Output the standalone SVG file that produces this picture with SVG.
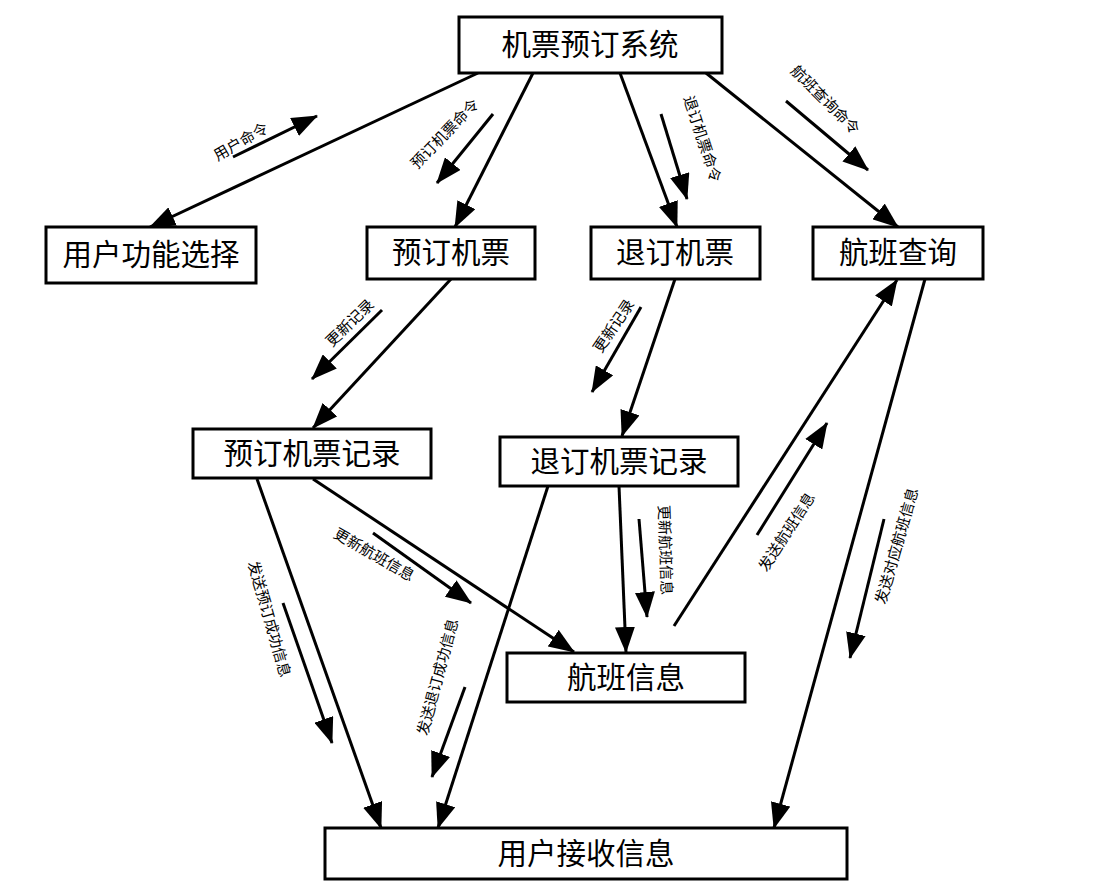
<svg xmlns="http://www.w3.org/2000/svg" width="1115" height="895" viewBox="0 0 1115 895">
<defs>
<marker id="ah" markerUnits="userSpaceOnUse" markerWidth="26" markerHeight="20" refX="25" refY="10" orient="auto">
<path d="M0,0 L26,10 L0,20 z" fill="#000"/>
</marker>
<style>
.box{fill:#fff;stroke:#000;stroke-width:3}
.bt{font-family:"Liberation Serif","Noto Sans CJK SC",serif;font-size:29.5px;fill:#000;text-anchor:middle;dominant-baseline:central}
.lt{font-family:"Liberation Serif","Noto Sans CJK SC",serif;font-size:15px;fill:#000;text-anchor:middle;dominant-baseline:central}
.c{fill:none;stroke:#000;stroke-width:3;marker-end:url(#ah)}
</style>
</defs>
<rect width="1115" height="895" fill="#fff"/>
<g id="connectors">
<path class="c" d="M478,73 L150,227"/>
<path class="c" d="M533,73 L455,227"/>
<path class="c" d="M620,73 L677,227"/>
<path class="c" d="M706,73 L898,227"/>
<path class="c" d="M451,279 L313,428"/>
<path class="c" d="M675,279 L622,436"/>
<path class="c" d="M313,479 L574,652"/>
<path class="c" d="M257,479 L381,828"/>
<path class="c" d="M548,486 L438,828"/>
<path class="c" d="M619,486 L626,652"/>
<path class="c" d="M674,626 L897,280"/>
<path class="c" d="M925,279 L774,828"/>
</g>
<g id="label-arrows">
<path class="c" d="M233,157 L317,116"/>
<path class="c" d="M493,114 L437,183"/>
<path class="c" d="M661,114 L687,199"/>
<path class="c" d="M786,101 L868,170"/>
<path class="c" d="M382,310 L312,379"/>
<path class="c" d="M641,307 L592,392"/>
<path class="c" d="M373,533 L471,603"/>
<path class="c" d="M639,519 L647,617"/>
<path class="c" d="M283,603 L332,743"/>
<path class="c" d="M465,687 L432,777"/>
<path class="c" d="M757,535 L827,423"/>
<path class="c" d="M884,519 L850,658"/>
</g>
<g id="labels">
<text class="lt" transform="translate(241,142) rotate(-30)">用户命令</text>
<text class="lt" transform="translate(445,134) rotate(-46)">预订机票命令</text>
<text class="lt" transform="translate(702,139) rotate(72)">退订机票命令</text>
<text class="lt" transform="translate(825,100) rotate(45)">航班查询命令</text>
<text class="lt" transform="translate(350,323) rotate(-44)">更新记录</text>
<text class="lt" transform="translate(614,326) rotate(-56)">更新记录</text>
<text class="lt" transform="translate(374,555) rotate(30)">更新航班信息</text>
<text class="lt" transform="translate(665,550) rotate(88)">更新航班信息</text>
<text class="lt" transform="translate(269,619) rotate(74)">发送预订成功信息</text>
<text class="lt" transform="translate(438,677) rotate(-75)">发送退订成功信息</text>
<text class="lt" transform="translate(787,532) rotate(-57)">发送航班信息</text>
<text class="lt" transform="translate(897,546) rotate(-74)">发送对应航班信息</text>
</g>
<g id="n-system"><rect class="box" x="459" y="17" width="263" height="56"/><text class="bt" x="590" y="45">机票预订系统</text></g>
<g id="n-userfunc"><rect class="box" x="46" y="227" width="210" height="56"/><text class="bt" x="151" y="255">用户功能选择</text></g>
<g id="n-book"><rect class="box" x="367" y="227" width="168" height="52"/><text class="bt" x="451" y="253">预订机票</text></g>
<g id="n-refund"><rect class="box" x="591" y="227" width="169" height="52"/><text class="bt" x="675" y="253">退订机票</text></g>
<g id="n-query"><rect class="box" x="813" y="227" width="170" height="52"/><text class="bt" x="898" y="253">航班查询</text></g>
<g id="n-bookrec"><rect class="box" x="193" y="429" width="238" height="49"/><text class="bt" x="312" y="454">预订机票记录</text></g>
<g id="n-refundrec"><rect class="box" x="500" y="437" width="238" height="49"/><text class="bt" x="619" y="462">退订机票记录</text></g>
<g id="n-flight"><rect class="box" x="507" y="653" width="238" height="49"/><text class="bt" x="626" y="678">航班信息</text></g>
<g id="n-receive"><rect class="box" x="325" y="828" width="522" height="51"/><text class="bt" x="586" y="854">用户接收信息</text></g>
</svg>
